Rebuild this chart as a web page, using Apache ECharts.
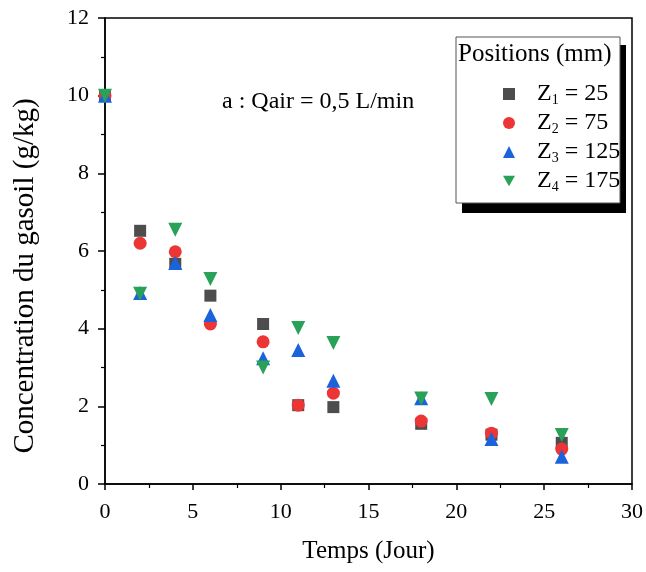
<!DOCTYPE html>
<html><head><meta charset="utf-8">
<script src="https://cdn.jsdelivr.net/npm/echarts@6/dist/echarts.min.js"></script>
<style>html,body{margin:0;padding:0;background:#fff}#c{width:646px;height:572px}</style>
</head><body><div id="c"></div>
<script>
const days = [0, 2, 4, 6, 9, 11, 13, 18, 22, 26];
const z1 = [10, 6.52, 5.67, 4.85, 4.12, 2.03, 1.98, 1.55, 1.27, 1.06];
const z2 = [10, 6.2, 5.98, 4.12, 3.66, 2.03, 2.34, 1.62, 1.31, 0.9];
const z3 = [10, 4.92, 5.69, 4.35, 3.24, 3.45, 2.66, 2.21, 1.16, 0.7];
const z4 = [10, 4.9, 6.55, 5.28, 3.0, 4.02, 3.63, 2.2, 2.19, 1.26];
const seriesNames = ['Z1', 'Z2', 'Z3', 'Z4'];
const subs = ['1', '2', '3', '4'];
const posVals = ['25', '75', '125', '175'];
const xTicks = { min: 0, max: 30, interval: 5 };
const yTicks = { min: 0, max: 12, interval: 2 };

const serif = 'Liberation Serif';
const colors = ['#4d4d4d', '#ec3535', '#1a63dc', '#2aa158'];
const symbols = ['rect', 'circle', 'triangle', 'path://M0,0 L10,0 L5,8.7 Z'];
const sizes = [12, 13, 14, 14];
const all = [z1, z2, z3, z4];

const chart = echarts.init(document.getElementById('c'));
chart.setOption({
  animation: false,
  grid: { left: 105, top: 18, right: 14, bottom: 88, show: true, borderColor: '#000', borderWidth: 1.5 },
  xAxis: {
    type: 'value', min: xTicks.min, max: xTicks.max, interval: xTicks.interval,
    name: 'Temps (Jour)', nameLocation: 'middle', nameGap: 55,
    nameTextStyle: { fontFamily: serif, fontSize: 25, color: '#000' },
    axisLine: { onZero: false, lineStyle: { color: '#000', width: 1.5 } },
    axisTick: { show: true, inside: false, length: 6, lineStyle: { color: '#000', width: 1.5 } },
    minorTick: { show: true, splitNumber: 2, length: 4, lineStyle: { color: '#000', width: 1.2 } },
    axisLabel: { fontFamily: serif, fontSize: 22, color: '#000', margin: 17 },
    splitLine: { show: false }
  },
  yAxis: {
    type: 'value', min: yTicks.min, max: yTicks.max, interval: yTicks.interval,
    axisLine: { onZero: false, lineStyle: { color: '#000', width: 1.5 } },
    axisTick: { show: true, inside: false, length: 7, lineStyle: { color: '#000', width: 1.5 } },
    minorTick: { show: true, splitNumber: 2, length: 4, lineStyle: { color: '#000', width: 1.2 } },
    axisLabel: { fontFamily: serif, fontSize: 22, color: '#000', margin: 16 },
    splitLine: { show: false }
  },
  legend: {
    orient: 'vertical', left: 498, top: 77, itemGap: 4, z: 20,
    itemWidth: 12, itemHeight: 12,
    data: seriesNames,
    formatter: function (name) {
      const i = seriesNames.indexOf(name);
      return '{n|Z}{s|' + subs[i] + '}{n| = ' + posVals[i] + '}';
    },
    textStyle: {
      padding: [0, 0, 0, 17],
      rich: {
        n: { fontFamily: serif, fontSize: 24, color: '#000' },
        s: { fontFamily: serif, fontSize: 14, color: '#000', verticalAlign: 'bottom', padding: [12, 0, 0, 0] }
      }
    }
  },
  graphic: [
    { type: 'rect', shape: { x: 462, y: 45, width: 164, height: 168 }, style: { fill: '#000' }, z: 1 },
    { type: 'rect', shape: { x: 456, y: 37, width: 164, height: 166 }, style: { fill: '#fff', stroke: '#555', lineWidth: 1 }, z: 2 },
    { type: 'text', left: 458, top: 42, z: 3, style: { text: 'Positions (mm)', fontFamily: serif, fontSize: 25, fill: '#000' } },
    { type: 'text', left: 222, top: 90, z: 3, style: { text: 'a : Qair = 0,5 L/min', fontFamily: serif, fontSize: 24, fill: '#000' } },
    { type: 'text', x: 25, y: 276, rotation: Math.PI / 2, z: 3,
      style: { text: 'Concentration du gasoil (g/kg)', fontFamily: serif, fontSize: 29, fill: '#000', align: 'center', verticalAlign: 'middle' } }
  ],
  series: all.map((d, i) => ({
    name: seriesNames[i], type: 'scatter', z: 10 + i,
    symbol: symbols[i], symbolSize: sizes[i],
    itemStyle: { color: colors[i], opacity: 1 },
    data: days.map((x, j) => [x, d[j]])
  }))
});
</script></body></html>
